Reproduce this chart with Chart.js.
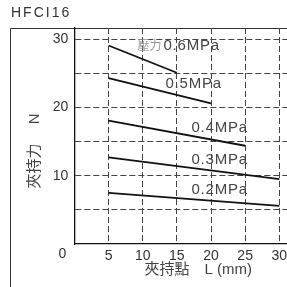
<!DOCTYPE html>
<html>
<head>
<meta charset="utf-8">
<script src="https://cdn.jsdelivr.net/npm/chart.js@4.4.1/dist/chart.umd.min.js"></script>
<style>
  html, body { margin: 0; padding: 0; background: #fff; overflow: hidden; width: 287px; height: 287px; }
  #wrap { width: 330px; height: 287px; }
</style>
</head>
<body>
<div id="wrap"><canvas id="chart" width="330" height="287"></canvas></div>
<script>
// pressure curves: clamping force N vs clamping point L (mm)
const chartTitle = 'HFCI16';
const pressures = ['0.6MPa', '0.5MPa', '0.4MPa', '0.3MPa', '0.2MPa'];
const lengths06 = [5, 15];
const force06 = [29.1, 25.1];
const lengths05 = [5, 20];
const force05 = [24.3, 20.6];
const lengths04 = [5, 25];
const force04 = [18.1, 14.4];
const lengths03 = [5, 30];
const force03 = [12.7, 9.5];
const lengths02 = [5, 30];
const force02 = [7.5, 5.6];

const allLengths = [lengths06, lengths05, lengths04, lengths03, lengths02];
const allForces = [force06, force05, force04, force03, force02];

const FONT = '"Liberation Sans", "Noto Sans CJK TC", sans-serif';

// where the pressure captions sit (right edge x, middle y, in data units)
const captionSpots = [
    { x: 21.3, y: 29.1 },
    { x: 21.6, y: 23.5 },
    { x: 25.4, y: 17.0 },
    { x: 25.4, y: 12.3 },
    { x: 25.4, y: 7.9 }
];

const decorPlugin = {
    id: 'decorPlugin',
    beforeDraw(chart) {
        const { ctx, chartArea } = chart;
        ctx.save();
        ctx.strokeStyle = '#333';
        ctx.lineWidth = 1;
        ctx.beginPath();
        ctx.moveTo(10.5, chart.height);
        ctx.lineTo(10.5, chartArea.top + 0.5);
        ctx.lineTo(chart.width, chartArea.top + 0.5);
        ctx.stroke();

        // title
        ctx.font = '14px ' + FONT;
        ctx.letterSpacing = '2px';
        ctx.fillStyle = '#333';
        ctx.textAlign = 'left';
        ctx.textBaseline = 'middle';
        ctx.fillText(chartTitle, 11, 13.5);
        ctx.restore();
    },
    afterDraw(chart) {
        const { ctx, scales: { x, y }, chartArea } = chart;
        ctx.save();
        // origin label
        ctx.font = '14px ' + FONT;
        ctx.fillStyle = '#333';
        ctx.textAlign = 'center';
        ctx.textBaseline = 'middle';
        ctx.fillText('0', x.getPixelForValue(0) - 12, chartArea.bottom + 10.5);

        // captions
        ctx.textAlign = 'right';
        pressures.forEach((p, i) => {
            const px = x.getPixelForValue(captionSpots[i].x);
            const py = y.getPixelForValue(captionSpots[i].y);
            ctx.font = '15px ' + FONT;
            ctx.letterSpacing = '0.8px';
            ctx.fillStyle = '#444';
            ctx.fillText(p, px, py);
            if (i === 0) {
                const w = ctx.measureText(p).width;
                ctx.font = '12px "Noto Sans CJK TC", sans-serif';
                ctx.letterSpacing = '0px';
                ctx.fillStyle = '#999';
                ctx.fillText('壓力', px - w - 2, py);
            }
        });
        ctx.restore();
    }
};

const datasets = pressures.map((p, i) => ({
    label: p,
    data: allLengths[i].map((l, j) => ({ x: l, y: allForces[i][j] })),
    borderColor: '#111',
    borderWidth: 1.8,
    pointRadius: 0,
    tension: 0
}));

const gridColor = (context) => (context.tick && context.tick.value === 0) ? 'rgba(0,0,0,0)' : '#444';

new Chart(document.getElementById('chart'), {
    type: 'line',
    data: { datasets },
    options: {
        responsive: false, animation: false,
        layout: { padding: { left: 11, right: 8, top: 28, bottom: 0 } },
        font: { family: FONT },
        plugins: {
            legend: { display: false },
            tooltip: { enabled: false },
            title: { display: false }
        },
        scales: {
            x: {
                type: 'linear', min: 0, max: 36.25,
                afterFit: (s) => { s.height = 43; },
                ticks: {
                    stepSize: 5, includeBounds: false, autoSkip: false, maxRotation: 0, padding: 4,
                    color: '#333', font: { size: 14, family: FONT },
                    callback: (v) => (v > 0 && v <= 30) ? v : ''
                },
                grid: { drawTicks: false, color: gridColor, lineWidth: 1 },
                border: { color: '#111', width: 1.3, dash: [6, 3] },
                title: {
                    display: true, text: '夾持點\u3000L (mm)', color: '#444',
                    font: { size: 15, family: FONT }, padding: { top: 0, bottom: 8 }
                }
            },
            y: {
                type: 'linear', min: 0, max: 31.66,
                afterFit: (s) => { s.width = 63.4; },
                ticks: {
                    stepSize: 5, includeBounds: false, padding: 6,
                    color: '#333', font: { size: 14, family: FONT },
                    callback: (v) => (v > 0 && v % 10 === 0) ? v : ''
                },
                grid: { drawTicks: false, color: gridColor, lineWidth: 1 },
                border: { color: '#111', width: 1.3, dash: [6, 3] },
                title: {
                    display: true, text: '夾持力\u3000 N\u3000\u3000', color: '#444',
                    font: { size: 15, family: FONT }, padding: { top: 15, bottom: 0 }
                }
            }
        }
    },
    plugins: [decorPlugin]
});
</script>
</body>
</html>
